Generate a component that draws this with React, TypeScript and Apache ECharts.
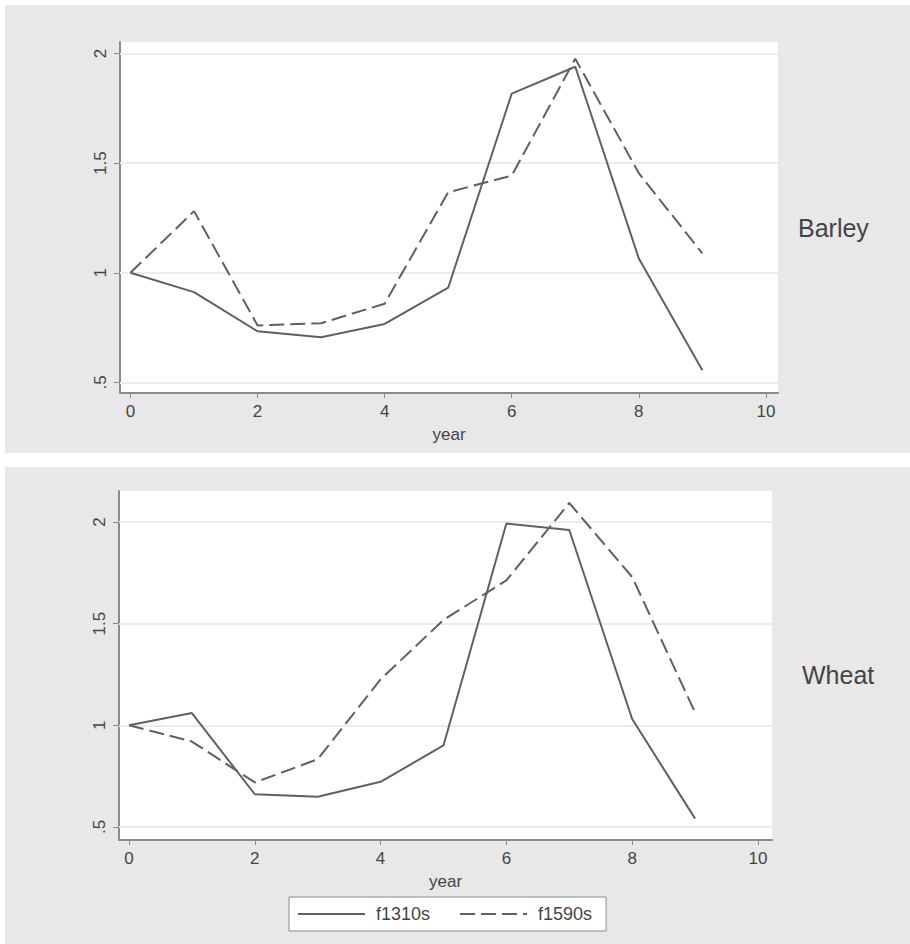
import React, { useEffect, useRef } from "react";
import * as echarts from "echarts";

const years = [0, 1, 2, 3, 4, 5, 6, 7, 8, 9];
const barleyF1310s = [1.0, 0.912, 0.733, 0.706, 0.767, 0.932, 1.817, 1.939, 1.065, 0.556];
const barleyF1590s = [1.0, 1.281, 0.76, 0.77, 0.859, 1.367, 1.443, 1.976, 1.454, 1.088];
const wheatF1310s = [1.0, 1.06, 0.661, 0.649, 0.722, 0.901, 1.992, 1.96, 1.031, 0.541];
const wheatF1590s = [1.0, 0.92, 0.719, 0.833, 1.226, 1.518, 1.713, 2.093, 1.729, 1.063];
const xTicks = [0, 2, 4, 6, 8, 10];
const yTicks = [0.5, 1, 1.5, 2];
const panelNames = ["Barley", "Wheat"];
const seriesNames = ["f1310s", "f1590s"];

const FONT = "'Liberation Sans', Arial, Helvetica, sans-serif";
const LINE_COLOR = "#606060";
const AXIS_COLOR = "#8a8a8a";
const TEXT_COLOR = "#444";

const pairs = (ys: number[]) => years.map((x, i) => [x, ys[i]]);
const fmtY = (v: number) => (v === 0.5 ? ".5" : String(v));

function makeXAxis(gridIndex: number, min: number, max: number) {
  return {
    type: "value",
    gridIndex,
    min,
    max,
    name: "year",
    nameLocation: "middle",
    nameGap: 33,
    nameTextStyle: { fontSize: 17, color: TEXT_COLOR, fontFamily: FONT },
    axisLine: { show: true, onZero: false, lineStyle: { color: AXIS_COLOR, width: 2 } },
    axisTick: { show: true, length: 5, customValues: xTicks, lineStyle: { color: AXIS_COLOR, width: 1 } },
    axisLabel: { show: true, customValues: xTicks, fontSize: 17, color: TEXT_COLOR, margin: 10, fontFamily: FONT },
    splitLine: { show: false },
  };
}

function makeYAxis(gridIndex: number, min: number, max: number) {
  return {
    type: "value",
    gridIndex,
    min,
    max,
    axisLine: { show: true, onZero: false, lineStyle: { color: AXIS_COLOR, width: 2 } },
    axisTick: { show: true, length: 6, customValues: yTicks, lineStyle: { color: AXIS_COLOR, width: 1 } },
    axisLabel: {
      show: true,
      customValues: yTicks,
      rotate: 90,
      fontSize: 17,
      color: TEXT_COLOR,
      margin: 11,
      fontFamily: FONT,
      formatter: fmtY,
    },
    splitLine: { show: false },
  };
}

function gridLineSeries(idx: number) {
  return {
    type: "line",
    name: "grid" + idx,
    xAxisIndex: idx,
    yAxisIndex: idx,
    data: [],
    silent: true,
    markLine: {
      silent: true,
      symbol: ["none", "none"],
      z: 1,
      label: { show: false },
      lineStyle: { color: "#ececec", width: 2, type: "solid" },
      emphasis: { disabled: true },
      data: yTicks.map((v) => ({ yAxis: v })),
    },
  };
}

function lineSeries(name: string, idx: number, ys: number[], dashed: boolean) {
  return {
    type: "line",
    name,
    xAxisIndex: idx,
    yAxisIndex: idx,
    data: pairs(ys),
    symbol: "none",
    showSymbol: false,
    z: 3,
    lineStyle: { color: LINE_COLOR, width: 2, type: dashed ? [15, 6] : "solid" },
    itemStyle: { color: LINE_COLOR },
  };
}

export default function App() {
  const ref = useRef<HTMLDivElement>(null);

  useEffect(() => {
    if (!ref.current) return;
    const chart = echarts.init(ref.current, null, { renderer: "svg" });
    chart.setOption({
      animation: false,
      backgroundColor: "#ffffff",
      textStyle: { fontFamily: FONT },
      graphic: [
        { type: "rect", z: -100, shape: { x: 5, y: 5, width: 905, height: 448 }, style: { fill: "#e8e8e8" }, silent: true },
        { type: "rect", z: -100, shape: { x: 5, y: 467, width: 905, height: 477 }, style: { fill: "#e8e8e8" }, silent: true },
      ],
      title: [
        { text: panelNames[0], left: 793, top: 210, textStyle: { fontSize: 25, fontWeight: "normal", color: TEXT_COLOR, fontFamily: FONT } },
        { text: panelNames[1], left: 797, top: 657, textStyle: { fontSize: 25, fontWeight: "normal", color: TEXT_COLOR, fontFamily: FONT } },
      ],
      grid: [
        { left: 120, top: 42, width: 658, height: 351, show: true, backgroundColor: "#ffffff", borderWidth: 0, containLabel: false },
        { left: 119, top: 491, width: 653, height: 349, show: true, backgroundColor: "#ffffff", borderWidth: 0, containLabel: false },
      ],
      xAxis: [makeXAxis(0, -0.165, 10.19), makeXAxis(1, -0.159, 10.223)],
      yAxis: [makeYAxis(0, 0.452, 2.052), makeYAxis(1, 0.436, 2.152)],
      legend: {
        data: seriesNames,
        left: 289,
        top: 897,
        orient: "horizontal",
        itemWidth: 67,
        itemHeight: 14,
        itemGap: 29,
        padding: [8, 14, 8, 8],
        backgroundColor: "#ffffff",
        borderColor: "#8a8a8a",
        borderWidth: 1,
        borderRadius: 0,
        selectedMode: false,
        itemStyle: { opacity: 0 },
        textStyle: { fontSize: 18, color: TEXT_COLOR, fontFamily: FONT, padding: [0, 0, 0, 6] },
      },
      series: [
        gridLineSeries(0),
        gridLineSeries(1),
        lineSeries(seriesNames[0], 0, barleyF1310s, false),
        lineSeries(seriesNames[1], 0, barleyF1590s, true),
        lineSeries(seriesNames[0], 1, wheatF1310s, false),
        lineSeries(seriesNames[1], 1, wheatF1590s, true),
      ],
    });
    return () => chart.dispose();
  }, []);

  return (
    <div style={{ position: "absolute", left: 0, top: 0, width: 910, height: 944, background: "#fff" }}>
      <div ref={ref} style={{ width: 910, height: 944 }} />
    </div>
  );
}
